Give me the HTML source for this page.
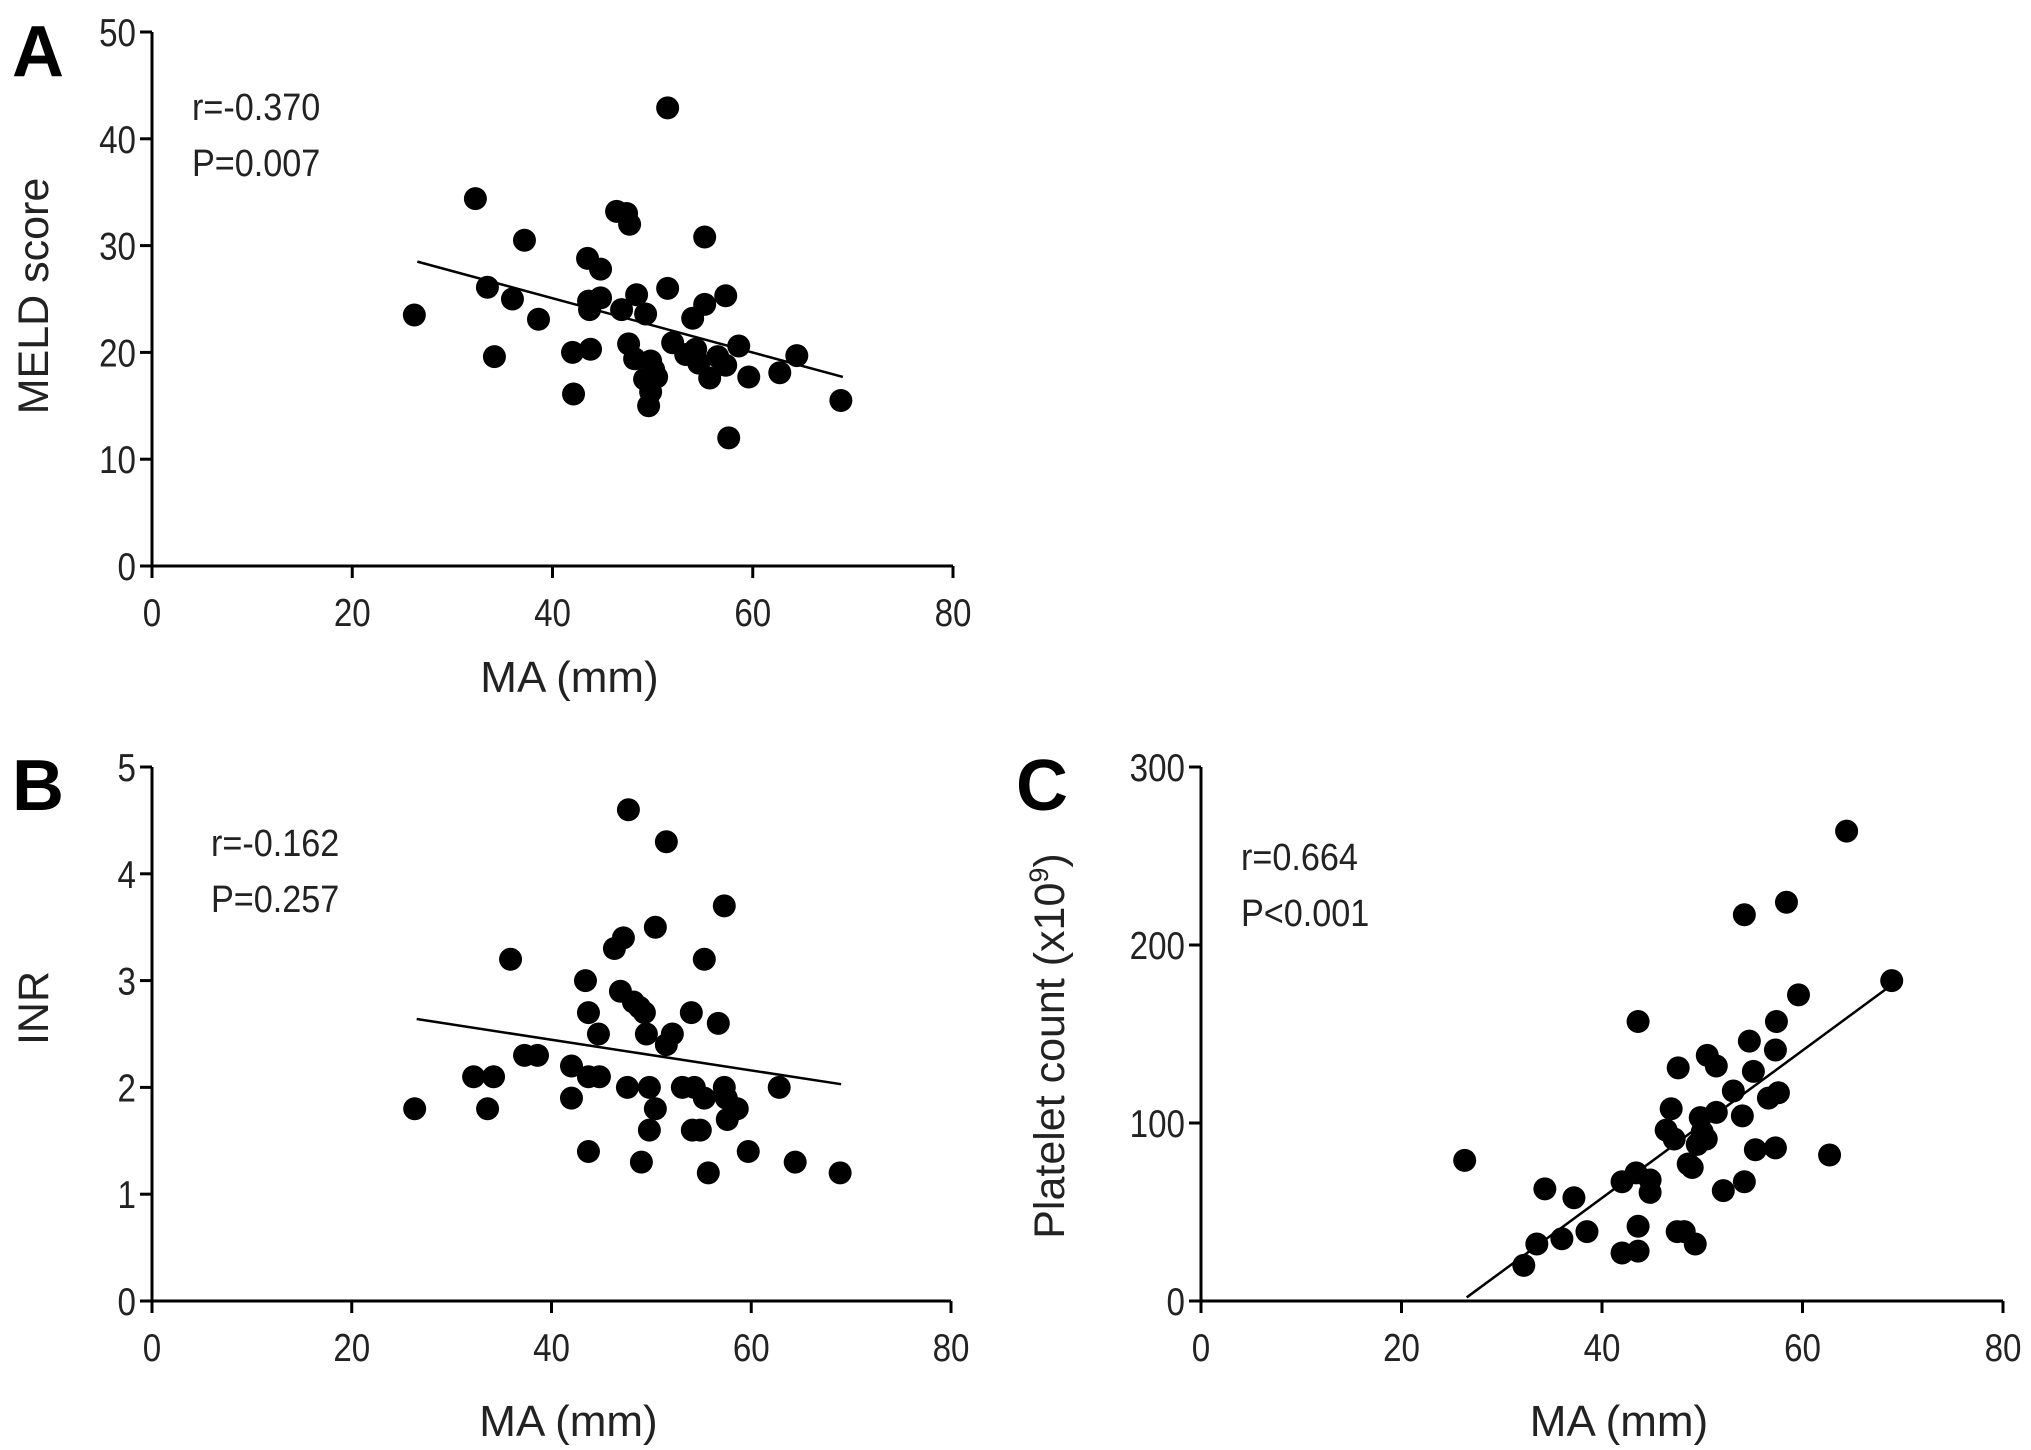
<!DOCTYPE html>
<html><head><meta charset="utf-8"><style>
html,body{margin:0;padding:0;background:#fff;}
svg{display:block;font-family:"Liberation Sans",Arial,sans-serif;}
</style></head><body>
<svg id="fig" width="2031" height="1450" viewBox="0 0 2031 1450"></svg>
<script>
// Panel A: MELD vs MA
const maA = [26.2,32.3,33.5,34.2,36.0,37.2,38.6,42.0,42.1,43.5,43.7,43.8,43.6,44.8,44.8,46.4,47.4,47.7,46.9,47.6,48.4,48.2,49.3,49.2,49.8,50.1,49.8,49.6,50.4,51.5,51.5,52.0,53.3,54.0,54.3,54.6,55.2,55.2,55.7,56.5,57.3,57.3,57.6,58.6,59.6,62.7,64.4,68.8];
const meld = [23.5,34.4,26.1,19.6,25.0,30.5,23.1,20.0,16.1,28.8,24.0,20.3,24.8,27.8,25.1,33.2,33.0,32.0,24.0,20.8,25.4,19.4,23.6,17.5,19.2,18.4,16.3,15.0,17.7,26.0,42.9,20.9,19.8,23.2,20.3,19.0,30.8,24.5,17.6,19.6,25.3,18.8,12.0,20.6,17.7,18.1,19.7,15.5];
const fitA = [[26.5,28.5],[69,17.7]];
// Panel B: INR vs MA
const maB = [26.3,32.2,34.2,33.6,35.9,37.3,38.6,42.0,42.0,43.4,43.7,43.7,43.7,44.8,44.7,46.3,47.2,46.9,47.7,47.6,48.2,48.8,49.3,49.5,49.0,49.8,49.8,50.4,50.4,51.5,51.5,52.1,53.1,54.0,54.3,54.1,54.9,55.3,55.3,55.7,56.7,57.3,57.3,57.5,57.6,58.6,59.7,62.8,64.4,68.9];
const inr = [1.8,2.1,2.1,1.8,3.2,2.3,2.3,2.2,1.9,3.0,2.7,2.1,1.4,2.1,2.5,3.3,3.4,2.9,4.6,2.0,2.8,2.75,2.7,2.5,1.3,2.0,1.6,3.5,1.8,4.3,2.4,2.5,2.0,2.7,2.0,1.6,1.6,3.2,1.9,1.2,2.6,3.7,2.0,1.9,1.7,1.8,1.4,2.0,1.3,1.2];
const fitB = [[26.5,2.64],[69,2.03]];
// Panel C: Platelet vs MA
const maC = [26.3,32.2,33.5,34.3,36.0,37.2,38.5,42.0,42.0,43.6,43.6,43.4,43.6,44.8,44.8,46.4,46.9,47.2,47.6,47.5,48.2,48.6,49.0,49.3,49.5,49.8,50.0,50.4,50.5,51.4,51.4,52.1,53.1,54.0,54.2,54.2,54.7,55.1,55.3,56.6,57.4,57.3,57.6,57.3,58.4,59.6,62.7,64.4,68.9];
const plt = [79,20,32,63,35,58,39,27,67,28,42,72,157,68,61,96,108,91,131,39,39,77,75,32,88,103,95,91,138,132,106,62,118,104,217,67,146,129,85,114,157,141,117,86,224,172,82,264,180];
const fitC = [[26.5,2],[69,178]];
const xTicks = [0,20,40,60,80];
const yTicksA = [0,10,20,30,40,50];
const yTicksB = [0,1,2,3,4,5];
const yTicksC = [0,100,200,300];

const NS='http://www.w3.org/2000/svg';
const svg=document.getElementById('fig');
function mk(tag,attrs,parent){const e=document.createElementNS(NS,tag);for(const k in attrs)e.setAttribute(k,attrs[k]);(parent||svg).appendChild(e);return e;}

function panel(p){
  const g=mk('g',{});
  
  
  const sx=v=>p.x0+(v-0)/80*(p.x1-p.x0);
  const sy=v=>p.y0-(v/p.ymax)*(p.y0-p.y1);
  const ya=mk('line',{x1:p.x0,y1:p.y0,x2:p.x0,y2:p.y1,stroke:'#000','stroke-width':3},g);
  
  
  const xa=mk('line',{x1:p.x0-12,y1:p.y0,x2:p.x1,y2:p.y0,stroke:'#000','stroke-width':3},g);
  
  
  xTicks.forEach(t=>{
    mk('line',{x1:sx(t),y1:p.y0,x2:sx(t),y2:p.y0+12,stroke:'#000','stroke-width':3},g);
    const tx=mk('text',{x:0,y:0,'font-size':39,'text-anchor':'middle',fill:'#222',transform:`translate(${sx(t)},${p.y0+60}) scale(0.85,1)`},g);
    tx.textContent=t;
    
    
  });
  p.yTicks.forEach(t=>{
    mk('line',{x1:p.x0-12,y1:sy(t),x2:p.x0,y2:sy(t),stroke:'#000','stroke-width':3},g);
    const tx=mk('text',{x:0,y:0,'font-size':39,'text-anchor':'end',fill:'#222',transform:`translate(${p.x0-16},${sy(t)+14}) scale(0.85,1)`},g);
    tx.textContent=t;
    
    
  });
  const fl=mk('line',{x1:sx(p.fit[0][0]),y1:sy(p.fit[0][1]),x2:sx(p.fit[1][0]),y2:sy(p.fit[1][1]),stroke:'#000','stroke-width':2.5},g);
  
  
  p.xs.forEach((xv,i)=>{
    const c=mk('circle',{cx:sx(xv),cy:sy(p.ys[i]),r:11.5,fill:'#000'},g);
    
    
  });
  const L=mk('text',{x:p.lx,y:p.ly,'font-size':72,'font-weight':'bold',fill:'#000'},g);
  L.textContent=p.id;
  
  
  const r=mk('text',{x:0,y:0,'font-size':38,fill:'#222',transform:`translate(${p.ax},${p.ay}) scale(0.9,1)`},g);
  r.textContent=p.r;
  
  
  const pv=mk('text',{x:0,y:0,'font-size':38,fill:'#222',transform:`translate(${p.ax},${p.ay+56}) scale(0.9,1)`},g);
  pv.textContent=p.pv;
  
  
  const xt=mk('text',{x:(p.x0+p.x1)/2+17,y:p.xty,'font-size':44,'text-anchor':'middle',fill:'#222'},g);
  xt.textContent='MA (mm)';
  
  
  const yt=mk('text',{x:0,y:0,'font-size':43,'text-anchor':'middle',fill:'#222',transform:`translate(${p.ytx},${p.yty}) rotate(-90)`},g);
  yt.innerHTML=p.ytitle;
  
  
}
panel({id:'A',x0:152,x1:953,y0:566,y1:32,ymax:50,yTicks:yTicksA,xs:maA,ys:meld,fit:fitA,lx:12,ly:76,ax:192,ay:120,r:'r=-0.370',pv:'P=0.007',xty:692,ytx:48,yty:296,ytitle:'MELD score'});
panel({id:'B',x0:152,x1:951,y0:1301,y1:767,ymax:5,yTicks:yTicksB,xs:maB,ys:inr,fit:fitB,lx:12,ly:810,ax:211,ay:856,r:'r=-0.162',pv:'P=0.257',xty:1436,ytx:48,yty:1008,ytitle:'INR'});
panel({id:'C',x0:1201,x1:2003,y0:1301,y1:767,ymax:300,yTicks:yTicksC,xs:maC,ys:plt,fit:fitC,lx:1016,ly:810,ax:1241,ay:870,r:'r=0.664',pv:'P<0.001',xty:1436,ytx:1064,yty:1046,ytitle:'Platelet count (x10<tspan dy="-16" font-size="27">9</tspan><tspan dy="16">)</tspan>'});
</script>
</body></html>
